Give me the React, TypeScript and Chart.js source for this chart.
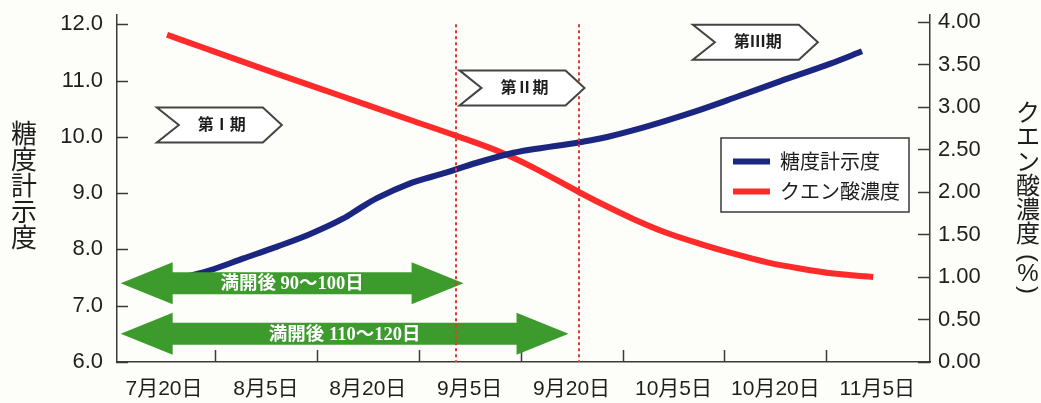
import { useEffect, useRef } from 'react';
import { Chart, registerables } from 'chart.js';

Chart.register(...registerables);

// Date axis labels; positions below are measured in label steps (0 = 7月20日)
const dateLabels = ['7月20日', '8月5日', '8月20日', '9月5日', '9月20日', '10月5日', '10月20日', '11月5日'];

// 糖度計示度 (left axis)
const brixX = [0, 0.45, 0.78, 1.11, 1.43, 1.76, 1.92, 2.09, 2.41, 2.74, 3.07, 3.39, 3.59, 4.07, 4.28, 4.61, 4.93, 5.26, 5.59, 6.05, 6.54, 6.85];
const brixY = [7.42, 7.63, 7.84, 8.05, 8.27, 8.55, 8.73, 8.91, 9.17, 9.35, 9.54, 9.7, 9.77, 9.9, 9.97, 10.12, 10.29, 10.48, 10.69, 10.99, 11.3, 11.52];

// クエン酸濃度 (right axis, %)
const acidX = [0.03, 0.45, 1.11, 1.76, 2.41, 2.87, 3.3, 3.62, 4.07, 4.28, 4.61, 4.93, 5.26, 5.59, 5.91, 6.24, 6.57, 6.96];
const acidY = [3.85, 3.67, 3.39, 3.12, 2.85, 2.66, 2.47, 2.29, 2.0, 1.87, 1.68, 1.52, 1.39, 1.275, 1.175, 1.1, 1.04, 1.0];

const brixTicks = [6, 7, 8, 9, 10, 11, 12];
const acidTicks = [0, 0.5, 1, 1.5, 2, 2.5, 3, 3.5, 4];

const seriesNames = ['糖度計示度', 'クエン酸濃度'];
const leftTitle = ['糖', '度', '計', '示', '度'];
const rightTitle = ['ク', 'エ', 'ン', '酸', '濃', '度'];

// Growth stages: tag left edge (date steps) and centre (糖度 units)
const stageNames = ['第Ⅰ期', '第Ⅱ期', '第Ⅲ期'];
const stageX = [-0.07, 2.9, 5.19];
const stageY = [10.21, 10.87, 11.68];

// Stage boundaries (date steps)
const stageLines = [2.87, 4.07];

// Days after full bloom: arrow spans (date steps) and centre (糖度 units)
const bloomNames = ['満開後 90〜100日', '満開後 110〜120日'];
const bloomFrom = [-0.425, -0.425];
const bloomTo = [2.94, 3.97];
const bloomY = [7.4, 6.5];

const BLUE = '#1b2680';
const RED = '#ff2a2a';
const GREEN = '#3d9a2d';
const INK = '#1e1e1e';
const AXIS = '#3a3a3a';
const SANS = "'Liberation Sans', 'Noto Sans CJK JP', sans-serif";
const CJK = "'Noto Sans CJK JP', sans-serif";
const SERIF = "'Liberation Serif', 'Noto Sans CJK JP', serif";

const decor = {
  id: 'decor',
  beforeDraw(chart: any) {
    const { ctx, width, height } = chart;
    ctx.save();
    ctx.fillStyle = '#fdfdf9';
    ctx.fillRect(0, 0, width, height);
    ctx.restore();
  },
  afterDatasetsDraw(chart: any) {
    const { ctx, chartArea: area, scales } = chart;
    const sx = scales.x;
    const yl = scales.yL;
    const yr = scales.yR;
    ctx.save();

    // inward tick marks
    ctx.strokeStyle = AXIS;
    ctx.lineWidth = 1.5;
    ctx.beginPath();
    brixTicks.forEach((v) => {
      const py = Math.round(yl.getPixelForValue(v)) + 0.5;
      ctx.moveTo(area.left - 1, py);
      ctx.lineTo(area.left + 11, py);
    });
    acidTicks.forEach((v) => {
      const py = Math.round(yr.getPixelForValue(v)) + 0.5;
      ctx.moveTo(area.right - 12, py);
      ctx.lineTo(area.right, py);
    });
    for (let i = 0; i < dateLabels.length - 1; i++) {
      const px = Math.round(sx.getPixelForValue(i + 0.5)) + 0.5;
      ctx.moveTo(px, area.bottom);
      ctx.lineTo(px, area.bottom - 12);
    }
    ctx.stroke();

    // double-headed arrows
    const head = 52;
    const hh = 21;
    const sh = 11;
    bloomNames.forEach((name, i) => {
      const xl = sx.getPixelForValue(bloomFrom[i]);
      const xr = sx.getPixelForValue(bloomTo[i]);
      const yc = yl.getPixelForValue(bloomY[i]);
      ctx.fillStyle = GREEN;
      ctx.beginPath();
      ctx.moveTo(xl, yc);
      ctx.lineTo(xl + head, yc - hh);
      ctx.lineTo(xl + head, yc - sh);
      ctx.lineTo(xr - head, yc - sh);
      ctx.lineTo(xr - head, yc - hh);
      ctx.lineTo(xr, yc);
      ctx.lineTo(xr - head, yc + hh);
      ctx.lineTo(xr - head, yc + sh);
      ctx.lineTo(xl + head, yc + sh);
      ctx.lineTo(xl + head, yc + hh);
      ctx.closePath();
      ctx.fill();
      ctx.fillStyle = '#ffffff';
      ctx.font = `bold 18.5px ${SERIF}`;
      ctx.textAlign = 'center';
      ctx.textBaseline = 'middle';
      ctx.fillText(name, (xl + xr) / 2, yc + 1);
    });

    // stage boundaries
    ctx.strokeStyle = '#e23a30';
    ctx.lineWidth = 2;
    ctx.setLineDash([3, 3]);
    stageLines.forEach((v) => {
      const px = Math.round(sx.getPixelForValue(v));
      ctx.beginPath();
      ctx.moveTo(px, yl.getPixelForValue(12));
      ctx.lineTo(px, area.bottom);
      ctx.stroke();
    });
    ctx.setLineDash([]);

    // stage tags
    const w = 106;
    const tip = 19;
    const notch = 22;
    const th = 35;
    stageNames.forEach((name, i) => {
      const l = sx.getPixelForValue(stageX[i]);
      const c = yl.getPixelForValue(stageY[i]);
      const t = c - th / 2;
      const b = c + th / 2;
      ctx.beginPath();
      ctx.moveTo(l, t);
      ctx.lineTo(l + w, t);
      ctx.lineTo(l + w + tip, c);
      ctx.lineTo(l + w, b);
      ctx.lineTo(l, b);
      ctx.lineTo(l + notch, c);
      ctx.closePath();
      ctx.fillStyle = '#ffffff';
      ctx.fill();
      ctx.strokeStyle = '#444444';
      ctx.lineWidth = 2;
      ctx.stroke();
      ctx.fillStyle = INK;
      ctx.font = `bold 16px ${SERIF}`;
      ctx.textAlign = 'center';
      ctx.textBaseline = 'middle';
      ctx.fillText(name, l + (notch + w) / 2 + 1, c + 1);
    });

    // legend
    const lx = area.right - 209;
    const ly = area.top + 123;
    ctx.fillStyle = '#ffffff';
    ctx.fillRect(lx, ly, 188, 74);
    ctx.strokeStyle = '#3a3a3a';
    ctx.lineWidth = 1.5;
    ctx.strokeRect(lx, ly, 188, 74);
    const colors = [BLUE, RED];
    seriesNames.forEach((name, i) => {
      const yy = ly + 23.5 + i * 30;
      ctx.strokeStyle = colors[i];
      ctx.lineWidth = 6;
      ctx.beginPath();
      ctx.moveTo(lx + 12, yy);
      ctx.lineTo(lx + 49, yy);
      ctx.stroke();
      ctx.fillStyle = INK;
      ctx.font = `20px ${CJK}`;
      ctx.textAlign = 'left';
      ctx.textBaseline = 'middle';
      ctx.fillText(name, lx + 59, yy);
    });

    // axis titles, set vertically
    ctx.fillStyle = INK;
    ctx.textAlign = 'center';
    ctx.textBaseline = 'middle';
    ctx.font = `26px ${CJK}`;
    leftTitle.forEach((ch, i) => ctx.fillText(ch, 24, 133 + i * 26));
    ctx.font = `24px ${CJK}`;
    rightTitle.forEach((ch, i) => ctx.fillText(ch, 1028, 112 + i * 24.2));
    ctx.font = `24px ${SANS}`;
    ctx.fillText('%', 1028, 274);
    ctx.save();
    ctx.translate(1028, 258);
    ctx.rotate(Math.PI / 2);
    ctx.fillText('(', 0, 0);
    ctx.restore();
    ctx.save();
    ctx.translate(1028, 290);
    ctx.rotate(Math.PI / 2);
    ctx.fillText(')', 0, 0);
    ctx.restore();

    ctx.restore();
  },
};

export default function App() {
  const ref = useRef<HTMLCanvasElement | null>(null);

  useEffect(() => {
    document.body.style.margin = '0';
    const canvas = ref.current;
    if (!canvas) return;
    const chart = new Chart(canvas, {
      type: 'line',
      data: {
        datasets: [
          {
            label: seriesNames[0],
            data: brixX.map((x, i) => ({ x, y: brixY[i] })),
            yAxisID: 'yL',
            borderColor: BLUE,
            backgroundColor: BLUE,
            borderWidth: 6,
            pointRadius: 0,
            cubicInterpolationMode: 'monotone',
          },
          {
            label: seriesNames[1],
            data: acidX.map((x, i) => ({ x, y: acidY[i] })),
            yAxisID: 'yR',
            borderColor: RED,
            backgroundColor: RED,
            borderWidth: 6,
            pointRadius: 0,
            cubicInterpolationMode: 'monotone',
          },
        ],
      },
      options: {
        animation: false,
        responsive: false,
        devicePixelRatio: 1,
        layout: { padding: { top: 15, left: 0, right: 0, bottom: 0 } },
        plugins: { legend: { display: false }, tooltip: { enabled: false } },
        scales: {
          x: {
            type: 'linear',
            min: -0.461,
            max: 7.517,
            grid: { display: false, drawTicks: false },
            border: { display: true, color: AXIS, width: 1.5 },
            afterBuildTicks: (s: any) => {
              s.ticks = dateLabels.map((_, i) => ({ value: i }));
            },
            afterFit: (s: any) => {
              s.height = 41;
              s.paddingLeft = 0;
              s.paddingRight = 0;
            },
            ticks: {
              autoSkip: false,
              maxRotation: 0,
              padding: 15,
              color: INK,
              font: { family: SANS, size: 21 },
              callback: (v: any) => dateLabels[Math.round(Number(v))],
            },
          },
          yL: {
            type: 'linear',
            position: 'left',
            min: 6,
            max: 12.165,
            grid: { display: false, drawTicks: false },
            border: { display: true, color: AXIS, width: 1.5 },
            afterBuildTicks: (s: any) => {
              s.ticks = brixTicks.map((v) => ({ value: v }));
            },
            afterFit: (s: any) => {
              s.width = 117;
              s.paddingTop = 0;
              s.paddingBottom = 0;
            },
            ticks: {
              padding: 14,
              color: INK,
              font: { family: SANS, size: 22 },
              callback: (v: any) => Number(v).toFixed(1),
            },
          },
          yR: {
            type: 'linear',
            position: 'right',
            min: 0,
            max: 4.082,
            grid: { display: false, drawTicks: false },
            border: { display: true, color: AXIS, width: 1.5 },
            afterBuildTicks: (s: any) => {
              s.ticks = acidTicks.map((v) => ({ value: v }));
            },
            afterFit: (s: any) => {
              s.width = 111;
              s.paddingTop = 0;
              s.paddingBottom = 0;
            },
            ticks: {
              padding: 8,
              color: INK,
              font: { family: SANS, size: 22 },
              callback: (v: any) => Number(v).toFixed(2),
            },
          },
        },
      },
      plugins: [decor],
    } as any);
    return () => chart.destroy();
  }, []);

  return (
    <div style={{ width: 1041, height: 403 }}>
      <canvas ref={ref} width={1041} height={403} />
    </div>
  );
}
